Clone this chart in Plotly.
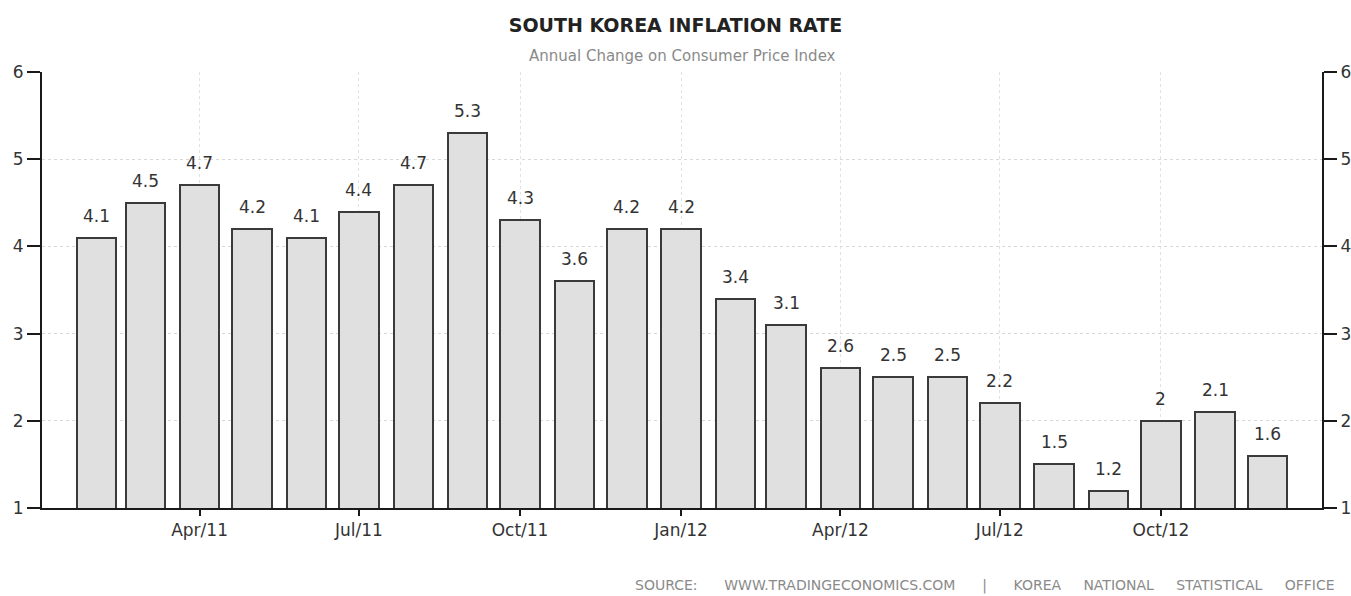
import plotly.graph_objects as go

months = ["2011-02-01", "2011-03-01", "2011-04-01", "2011-05-01", "2011-06-01", "2011-07-01",
          "2011-08-01", "2011-09-01", "2011-10-01", "2011-11-01", "2011-12-01", "2012-01-01",
          "2012-02-01", "2012-03-01", "2012-04-01", "2012-05-01", "2012-06-01", "2012-07-01",
          "2012-08-01", "2012-09-01", "2012-10-01", "2012-11-01", "2012-12-01"]
inflation = [4.1, 4.5, 4.7, 4.2, 4.1, 4.4, 4.7, 5.3, 4.3, 3.6, 4.2, 4.2,
             3.4, 3.1, 2.6, 2.5, 2.5, 2.2, 1.5, 1.2, 2.0, 2.1, 1.6]
tick_dates = ["2011-04-01", "2011-07-01", "2011-10-01", "2012-01-01",
              "2012-04-01", "2012-07-01", "2012-10-01"]
tick_labels = ["Apr/11", "Jul/11", "Oct/11", "Jan/12", "Apr/12", "Jul/12", "Oct/12"]
y_ticks = [1, 2, 3, 4, 5, 6]

FONT = "DejaVu Sans"
DAY_MS = 86400000

fig = go.Figure()
fig.add_trace(go.Bar(
    x=months, y=inflation,
    base=0,
    width=[22.5 * DAY_MS] * len(months),
    marker=dict(color="#e0e0e0", line=dict(color="#3a3a3a", width=2)),
    showlegend=False,
))
fig.add_trace(go.Scatter(x=[months[0]], y=[inflation[0]], yaxis="y2",
                         mode="markers", marker=dict(opacity=0), showlegend=False,
                         hoverinfo="skip"))

value_labels = [
    dict(x=m, y=v, xref="x", yref="y", text=f"{v:g}", showarrow=False,
         xanchor="center", yanchor="bottom", yshift=10,
         font=dict(family=FONT, size=17, color="#333333"))
    for m, v in zip(months, inflation)
]

axis_common = dict(range=[1, 6], tickvals=y_ticks, showline=True, linecolor="#1a1a1a",
                   linewidth=2, ticks="outside", ticklen=13, tickwidth=2, tickcolor="#1a1a1a",
                   tickfont=dict(family=FONT, size=17, color="#333333"), zeroline=False,
                   automargin=False)

fig.update_layout(
    width=1351, height=596,
    paper_bgcolor="white", plot_bgcolor="white",
    margin=dict(l=42, r=29, t=72, b=88),
    bargap=0,
    title=dict(text="<b>SOUTH KOREA INFLATION RATE</b>", x=0.5, xanchor="center",
               y=0.958, yanchor="middle",
               font=dict(family=FONT, size=19, color="#222222")),
    xaxis=dict(type="date", range=["2011-01-01", "2013-01-01"], tickvals=tick_dates,
               ticktext=tick_labels, showline=True, linecolor="#1a1a1a", linewidth=2,
               ticks="outside", ticklen=6, tickwidth=2, tickcolor="#1a1a1a",
               tickfont=dict(family=FONT, size=17, color="#333333"),
               showgrid=True, gridcolor="#e2e2e2", griddash="dot", gridwidth=1,
               zeroline=False, automargin=False),
    yaxis=dict(**axis_common, side="left", showgrid=True, gridcolor="#d8d8d8",
               griddash="dot", gridwidth=1),
    yaxis2=dict(**axis_common, side="right", overlaying="y", showgrid=False),
    annotations=value_labels + [
        dict(text="Annual Change on Consumer Price Index", xref="paper", yref="paper",
             x=0.5, y=1.036, xanchor="center", yanchor="middle", showarrow=False,
             font=dict(family=FONT, size=15, color="#8a8a8a")),
        dict(text="SOURCE:      WWW.TRADINGECONOMICS.COM      |      KOREA     NATIONAL     STATISTICAL     OFFICE",
             xref="paper", yref="paper", x=1.012, y=-0.178, xanchor="right",
             yanchor="middle", showarrow=False,
             font=dict(family=FONT, size=14, color="#8a8a8a")),
    ],
)

fig.write_html("out.html", config={"displayModeBar": False},
               post_script="document.body.style.margin='0px';"
                           "document.body.style.overflow='hidden';"
                           "document.documentElement.style.overflow='hidden';")
